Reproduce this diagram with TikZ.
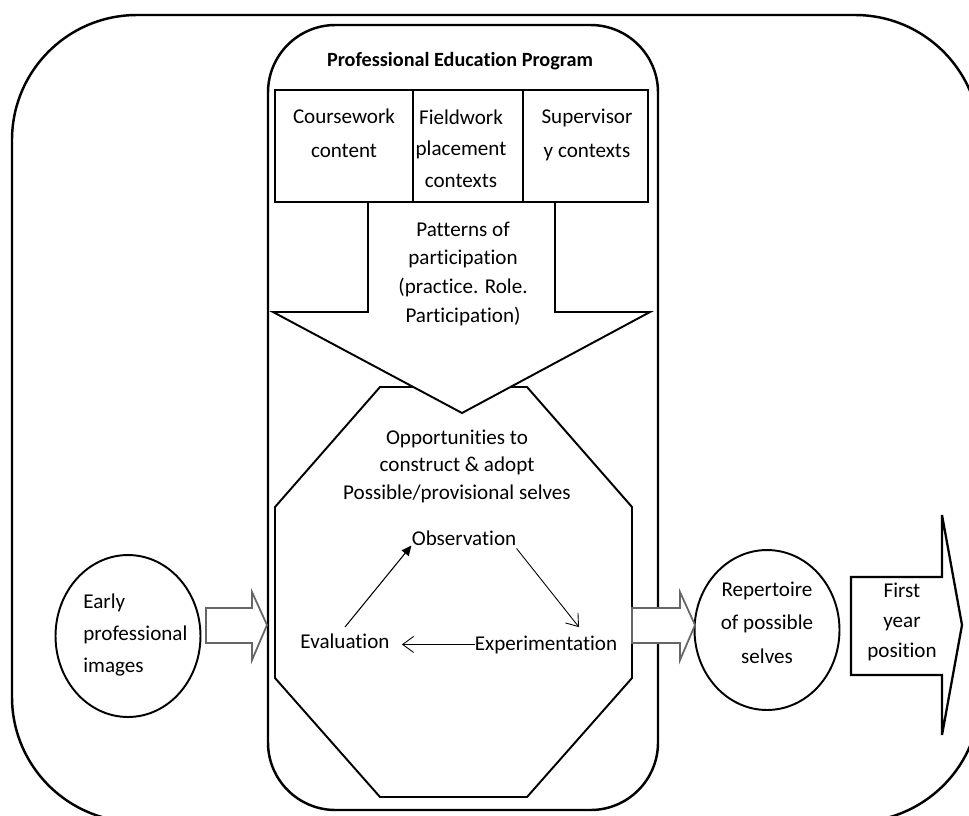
\documentclass[tikz,border=0pt]{standalone}
\usepackage{fontspec}
\setmainfont[Ligatures=NoCommon]{Carlito}
\usetikzlibrary{shapes.geometric,arrows.meta}

\begin{document}
\begin{tikzpicture}[x=0.02cm, y=-0.02cm,
  every node/.style={inner sep=0pt, align=center},
  lbl/.style={font=\fontsize{12}{#1}\selectfont},
  frame/.style={draw, line width=1.4pt},
  cell/.style={draw, line width=1.1pt, minimum height=2.24cm},
  blob/.style={draw, ellipse, line width=1.1pt, minimum width=2.9cm},
  fatarrow/.style={draw=black!60, fill=white, line width=1pt},
  solidtip/.style={line width=0.6pt, -{Triangle[length=2mm, width=1.8mm]}},
  opentip/.style={line width=0.5pt, -{Straight Barb[length=2.2mm, width=3.2mm]}}]
  \useasboundingbox (0,0) rectangle (969,815);
  \clip (0,0) rectangle (969,815);

  % outer frame and program frame
  \draw[frame, rounded corners=2.5cm] (12,15) rectangle (980,822);
  \draw[frame, rounded corners=1.35cm] (268,25) rectangle (658,810);
  \node (title) [anchor=base, font=\fontsize{11.5}{14}\selectfont\bfseries] at (460,66) {Professional Education Program};

  % three contexts
  \node (course) [cell, minimum width=2.76cm] at (344,146) {};
  \node (field) [cell, minimum width=2.2cm] at (468,146) {};
  \node (sup) [cell, minimum width=2.5cm] at (585.5,146) {};
  \node (coursetxt) [lbl=18.8pt, anchor=base] at (344,157) {Coursework\\content};
  \node (fieldtxt) [lbl=17.9pt, anchor=base] at (461,187) {Fieldwork\\placement\\contexts};
  \node (suptxt) [lbl=18.8pt, anchor=base] at (587,157) {Supervisor\\y contexts};

  % octagon of opportunities
  \draw[line width=1.1pt, fill=white] (380,387) -- (527,387) -- (632,507) -- (632,678)
    -- (527,797) -- (380,797) -- (275,678) -- (275,507) -- cycle;

  % patterns arrow
  \draw[line width=1.1pt, fill=white] (368,202) -- (368,312) -- (273,312) -- (462,413)
    -- (650,312) -- (555,312) -- (555,202) -- cycle;
  \node (patterns) [lbl=16.3pt, anchor=base] at (463,322) {Patterns of\\participation\\(practice. Role.\\Participation)};

  \node (opps) [lbl=15.4pt, anchor=base] at (457,499) {Opportunities to\\construct \& adopt\\Possible/provisional selves};
  \node (obs) [lbl=14pt, anchor=base] at (464,545) {Observation};
  \node (eval) [lbl=14pt, anchor=base] at (345,648) {Evaluation};
  \node (exp) [lbl=14pt, anchor=base] at (546,650) {Experimentation};
  \draw[solidtip] ([yshift=0.12cm]eval.north) -- (obs.south west);
  \draw[opentip] ([yshift=-0.06cm]obs.south east) -- ([xshift=0.66cm, yshift=0.16cm]exp.north);
  \draw[opentip, shorten >=0.24cm] (exp.west) -- (exp.west -| eval.east);

  % entry and exit
  \node (early) [blob, minimum height=3.24cm] at (128,636) {};
  \node (earlytxt) [lbl=18.2pt, align=left, anchor=base west] at (83,672) {Early\\professional\\images};
  \node (rep) [blob, minimum height=3.2cm] at (767,630) {};
  \node (reptxt) [lbl=18.8pt, anchor=base] at (767,663) {Repertoire\\of possible\\selves};
  \draw[fatarrow] (206,608) -- (252,608) -- (252,592) -- (267,625) -- (252,660)
    -- (252,643) -- (206,643) -- cycle;
  \draw[fatarrow] (632,608) -- (680,608) -- (680,592) -- (695,625) -- (680,660)
    -- (680,643) -- (632,643) -- cycle;

  % first year arrow
  \draw[line width=1.3pt, fill=white] (851,577) -- (942,577) -- (942,515) -- (962,625)
    -- (942,735) -- (942,675) -- (851,675) -- cycle;
  \node (first) [lbl=16.8pt, anchor=base] at (902,657) {First\\year\\position};
\end{tikzpicture}
\end{document}
